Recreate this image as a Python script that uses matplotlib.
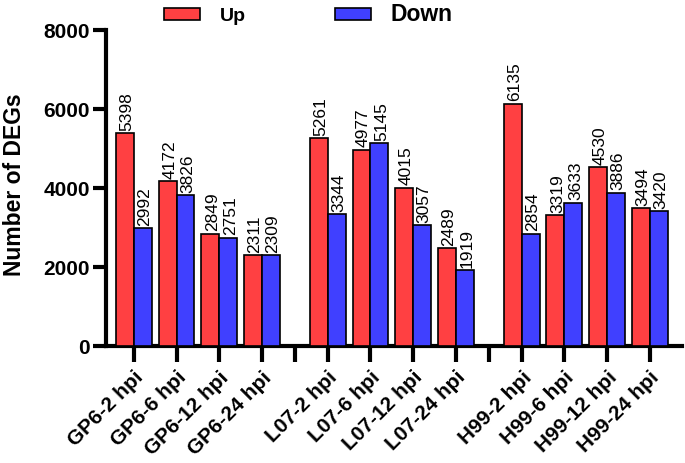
import matplotlib
matplotlib.use("Agg")
import matplotlib.pyplot as plt
from matplotlib.patches import Patch
import numpy as np

plt.rcParams['font.family'] = ['Liberation Sans', 'DejaVu Sans']

samples = ["GP6-2 hpi", "GP6-6 hpi", "GP6-12 hpi", "GP6-24 hpi",
           "L07-2 hpi", "L07-6 hpi", "L07-12 hpi", "L07-24 hpi",
           "H99-2 hpi", "H99-6 hpi", "H99-12 hpi", "H99-24 hpi"]
up = [5398, 4172, 2849, 2311, 5261, 4977, 4015, 2489, 6135, 3319, 4530, 3494]
down = [2992, 3826, 2751, 2309, 3344, 5145, 3057, 1919, 2854, 3633, 3886, 3420]

UP_COLOR = "#FF4042"
DOWN_COLOR = "#4040FF"

# three groups of four, with a wider gap between groups
group_gap = 1.55
x = np.array([i % 4 + (i // 4) * (3 + group_gap) for i in range(len(samples))], dtype=float)
gap_ticks = [3 + group_gap / 2, 3 + group_gap + 3 + group_gap / 2]
w = 0.42

fig = plt.figure(figsize=(6.85, 4.63), dpi=100)
ax = fig.add_axes([0.155, 0.252, 0.84, 0.683])

ax.bar(x - w / 2, up, w, color=UP_COLOR, edgecolor="black", linewidth=1.2, zorder=3)
ax.bar(x + w / 2, down, w, color=DOWN_COLOR, edgecolor="black", linewidth=1.2, zorder=3)

for xi, u, d in zip(x, up, down):
    ax.text(xi - w / 2 + 0.05, u + 60, str(u), rotation=90, ha="center", va="bottom", fontsize=12.5)
    ax.text(xi + w / 2 + 0.05, d + 60, str(d), rotation=90, ha="center", va="bottom", fontsize=12.5)

ax.set_ylim(0, 8000)
ax.set_xlim(-0.65, x[-1] + 0.75)
ax.set_yticks([0, 2000, 4000, 6000, 8000])
ax.set_yticklabels(["0", "2000", "4000", "6000", "8000"], fontsize=15, fontweight="bold")

ax.set_xticks(list(x) + gap_ticks)
ax.set_xticklabels(samples + ["", ""], rotation=45, ha="right", rotation_mode="anchor",
                   fontsize=15, fontweight="bold")

for s in ["top", "right"]:
    ax.spines[s].set_visible(False)
for s in ["left", "bottom"]:
    ax.spines[s].set_linewidth(3)
ax.tick_params(axis="x", width=3, length=11.5, pad=4)
ax.tick_params(axis="y", width=3, length=9.5, pad=2)

ax.set_ylabel("Number of DEGs", fontsize=16.5, fontweight="bold")
ax.yaxis.set_label_coords(-0.14, 0.51)

handles = [Patch(facecolor=UP_COLOR, edgecolor="black", linewidth=1.2),
           Patch(facecolor=DOWN_COLOR, edgecolor="black", linewidth=1.2)]
leg = fig.legend(handles, ["Up", "Down"], ncol=2, loc="upper left",
                 bbox_to_anchor=(0.214, 1.032), frameon=False,
                 handlelength=1.85, handleheight=0.6, handletextpad=1.0,
                 columnspacing=4.6, prop={"size": 14, "weight": "bold"})
leg.get_texts()[1].set_fontsize(16.5)

fig.savefig("out.png", dpi=100)
